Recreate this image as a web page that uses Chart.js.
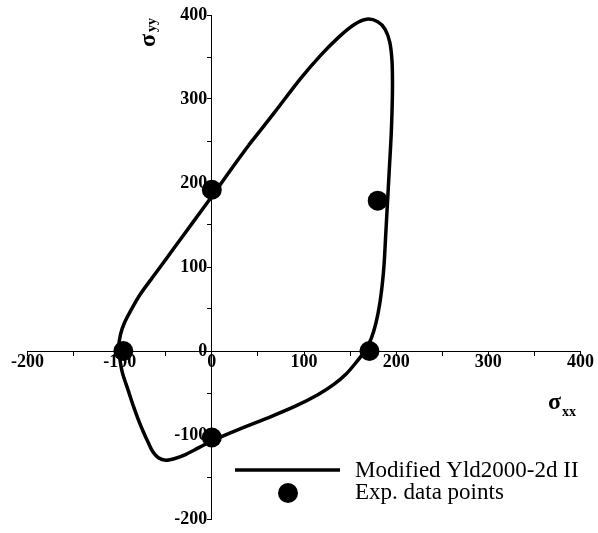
<!DOCTYPE html>
<html>
<head>
<meta charset="utf-8">
<script src="https://cdn.jsdelivr.net/npm/chart.js@4.4.1/dist/chart.umd.min.js"></script>
<style>
  html, body { margin: 0; padding: 0; background: #fff; }
  canvas { display: block; }
</style>
</head>
<body>
<canvas id="chart" width="598" height="533"></canvas>
<script>
// yield locus (Modified Yld2000-2d II), traced clockwise starting on the upper-left flank
const curveX = [40, 68, 96, 118, 138, 155, 168, 180, 188, 193, 195.5, 196, 195.5, 194.5, 193, 191.5, 190, 188.5, 187, 185,
  182, 178, 173, 166, 157, 146, 132, 115, 90, 60, 30, 0, -14, -28, -40, -50, -58, -64, -69, -74,
  -80, -85, -91, -97, -100, -101, -99, -95, -88, -78, -60, -40, -20, 0, 20, 40];
const curveY = [245, 284, 324, 352, 374, 389, 395, 392, 383, 368, 345, 315, 285, 255, 225, 195, 165, 135, 105, 80,
  55, 33, 15, 0, -13, -27, -40, -52, -66, -80, -93, -107, -115, -123, -128, -130, -127, -120, -109, -97,
  -81, -66, -46, -26, -8, 5, 20, 33, 48, 67, 94, 124, 154, 184, 215, 245];

// experimental data points
const expX = [0, 180, -96, 171, 0];
const expY = [192, 179, 0, 0, -103];

const axisMin = -200;
const axisMax = 400;
const majorStep = 100;
const minorStep = 50;

const serif = '"Liberation Serif", "Times New Roman", serif';

const decorations = {
  id: 'decorations',
  afterDraw(chart) {
    const ctx = chart.ctx;
    ctx.save();
    ctx.fillStyle = '#000';
    ctx.strokeStyle = '#000';
    ctx.textAlign = 'left';
    ctx.textBaseline = 'alphabetic';

    // x axis title
    ctx.font = 'bold 24px ' + serif;
    ctx.fillText('σ', 548, 409);
    ctx.font = 'bold 14px ' + serif;
    ctx.fillText('xx', 562, 416);

    // y axis title (rotated)
    ctx.save();
    ctx.translate(155, 47);
    ctx.rotate(-Math.PI / 2);
    ctx.font = 'bold 24px ' + serif;
    ctx.fillText('σ', 0, 0);
    ctx.font = 'bold 14px ' + serif;
    ctx.fillText('yy', 15, 1);
    ctx.restore();

    // legend
    ctx.lineWidth = 3.5;
    ctx.beginPath();
    ctx.moveTo(235, 470);
    ctx.lineTo(340, 470);
    ctx.stroke();
    ctx.beginPath();
    ctx.arc(288, 493, 10, 0, Math.PI * 2);
    ctx.fill();
    ctx.font = '23px ' + serif;
    ctx.fillText('Modified Yld2000-2d II', 355, 477);
    ctx.fillText('Exp. data points', 355, 499);
    ctx.restore();
  }
};

const tickLabel = (v) => (v % majorStep === 0 ? String(v) : '');

new Chart(document.getElementById('chart'), {
  type: 'scatter',
  data: {
    datasets: [
      {
        label: 'Exp. data points',
        data: expX.map((x, i) => ({ x: x, y: expY[i] })),
        pointRadius: 10,
        pointBackgroundColor: '#000',
        pointBorderWidth: 0,
        showLine: false
      },
      {
        label: 'Modified Yld2000-2d II',
        data: curveX.map((x, i) => ({ x: x, y: curveY[i] })),
        showLine: true,
        borderColor: '#000',
        borderWidth: 3.5,
        pointRadius: 0,
        tension: 0.3
      }
    ]
  },
  options: {
    responsive: false,
    animation: false,
    layout: { padding: { left: 27.5, right: 17.5, top: 15, bottom: 14 } },
    plugins: { legend: { display: false }, tooltip: { enabled: false } },
    scales: {
      x: {
        type: 'linear',
        min: axisMin,
        max: axisMax,
        position: { y: 0 },
        grid: { drawOnChartArea: false, drawTicks: true, tickLength: 4, color: '#000' },
        border: { display: true, color: '#000', width: 1 },
        ticks: {
          stepSize: minorStep,
          autoSkip: false,
          maxRotation: 0,
          padding: -2,
          color: '#000',
          font: { family: serif, size: 18, weight: 'bold', lineHeight: 1 },
          callback: tickLabel
        }
      },
      y: {
        type: 'linear',
        min: axisMin,
        max: axisMax,
        position: { x: 0 },
        grid: { drawOnChartArea: false, drawTicks: true, tickLength: 4, color: '#000' },
        border: { display: true, color: '#000', width: 1 },
        ticks: {
          stepSize: minorStep,
          autoSkip: false,
          color: '#000',
          font: { family: serif, size: 18, weight: 'bold', lineHeight: 1 },
          callback: (v) => (v % majorStep === 0 ? v + ' ' : '')
        }
      }
    }
  },
  plugins: [decorations]
});
</script>
</body>
</html>
